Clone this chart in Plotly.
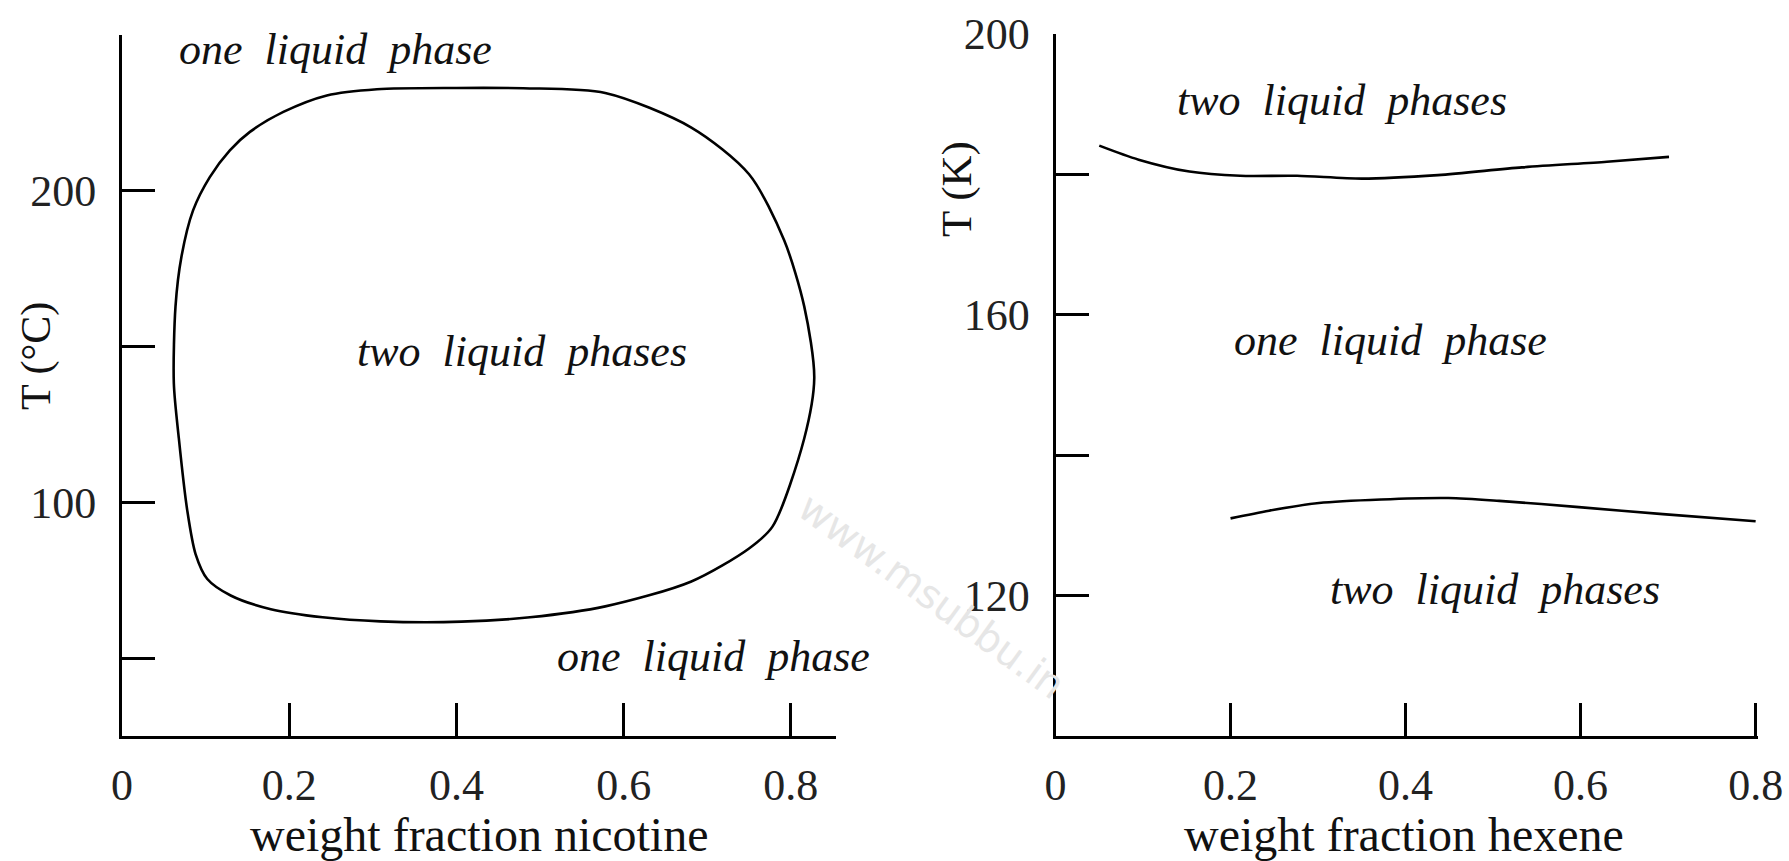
import plotly.graph_objects as go

# Nicotine-water: closed mutual-solubility loop (weight fraction nicotine, T in degC)
nic_x = [0.400, 0.480, 0.578, 0.681, 0.750, 0.792, 0.816, 0.828, 0.816, 0.778,
         0.750, 0.681, 0.578, 0.488, 0.406, 0.309, 0.240, 0.178, 0.130, 0.102,
         0.088, 0.078, 0.068, 0.062, 0.064, 0.071, 0.085, 0.105, 0.129, 0.153,
         0.193, 0.245, 0.305, 0.400]
nic_T = [233.0, 232.9, 231.4, 220.3, 205.3, 184.1, 162.9, 139.9, 120.5, 92.2,
         85.2, 74.6, 66.6, 63.1, 61.7, 61.8, 63.1, 65.7, 70.1, 75.4,
         83.4, 97.5, 120.5, 138.2, 162.9, 178.7, 193.7, 204.4, 213.0, 218.9,
         225.3, 230.6, 232.6, 233.0]

# Hexene system: upper and lower consolute curves (weight fraction hexene, T in K)
hex_upper_x = [0.050, 0.095, 0.153, 0.211, 0.276, 0.350, 0.437, 0.533, 0.630, 0.701]
hex_upper_T = [184.1, 182.1, 180.4, 179.8, 179.8, 179.4, 179.9, 181.0, 181.8, 182.5]
hex_lower_x = [0.200, 0.244, 0.301, 0.372, 0.449, 0.507, 0.598, 0.694, 0.800]
hex_lower_T = [131.0, 132.1, 133.2, 133.7, 133.9, 133.5, 132.6, 131.6, 130.6]

# Axis ticks
x_ticks = [0, 0.2, 0.4, 0.6, 0.8]
x_ticktext = ["0", "0.2", "0.4", "0.6", "0.8"]
left_y_ticks = [50, 100, 150, 200, 250]
left_y_ticktext = ["", "100", "", "200", ""]
right_y_ticks = [120, 140, 160, 180, 200]
right_y_ticktext = ["120", "", "160", "", "200"]

# Region labels: (text, x, y)
left_labels = [("one liquid phase", 0.255, 245.3),
               ("two liquid phases", 0.479, 148.5),
               ("one liquid phase", 0.708, 50.6)]
right_labels = [("two liquid phases", 0.327, 190.5),
                ("one liquid phase", 0.383, 156.4),
                ("two liquid phases", 0.502, 120.9)]

W, H = 1789, 861
SERIF = "Liberation Serif, Times New Roman, serif"
INK = "#111111"

fig = go.Figure()
line_style = dict(color="black", width=2.6, shape="spline", smoothing=0.8)
fig.add_trace(go.Scatter(x=nic_x, y=nic_T, mode="lines", line=line_style,
                         xaxis="x", yaxis="y", hoverinfo="skip"))
fig.add_trace(go.Scatter(x=hex_upper_x, y=hex_upper_T, mode="lines", line=line_style,
                         xaxis="x2", yaxis="y2", hoverinfo="skip"))
fig.add_trace(go.Scatter(x=hex_lower_x, y=hex_lower_T, mode="lines", line=line_style,
                         xaxis="x2", yaxis="y2", hoverinfo="skip"))

axis_common = dict(showline=True, linecolor="black", linewidth=3,
                   ticks="inside", ticklen=33, tickwidth=2.5, tickcolor="black",
                   showgrid=False, zeroline=False, mirror=False, automargin=False,
                   tickfont=dict(family=SERIF, size=44, color="#222222"))

fig.update_layout(
    width=W, height=H,
    margin=dict(l=0, r=0, t=0, b=0, autoexpand=False),
    paper_bgcolor="white", plot_bgcolor="white",
    showlegend=False,
    xaxis=dict(domain=[122 / W, 836 / W], range=[0, 0.854], anchor="y",
               tickmode="array", tickvals=x_ticks, ticktext=x_ticktext,
               ticklabelstandoff=8, **axis_common),
    yaxis=dict(domain=[(H - 736) / H, (H - 35) / H], range=[25, 250], anchor="x",
               tickmode="array", tickvals=left_y_ticks, ticktext=left_y_ticktext,
               ticklabelstandoff=14, **axis_common),
    xaxis2=dict(domain=[1055.5 / W, 1758 / W], range=[0, 0.8027], anchor="y2",
                tickmode="array", tickvals=x_ticks, ticktext=x_ticktext,
                ticklabelstandoff=8, **axis_common),
    yaxis2=dict(domain=[(H - 736) / H, (H - 34) / H], range=[100, 200], anchor="x2",
                tickmode="array", tickvals=right_y_ticks, ticktext=right_y_ticktext,
                ticklabelstandoff=14, **axis_common),
)

annotations = []
label_font = dict(family=SERIF, size=44, color=INK, style="italic")
for text, x, y in left_labels:
    annotations.append(dict(text=text.replace(" ", "&nbsp;&nbsp;"), x=x, y=y, xref="x", yref="y",
                            showarrow=False, font=label_font, xanchor="center", yanchor="middle"))
for text, x, y in right_labels:
    annotations.append(dict(text=text.replace(" ", "&nbsp;&nbsp;"), x=x, y=y, xref="x2", yref="y2",
                            showarrow=False, font=label_font, xanchor="center", yanchor="middle"))

title_font = dict(family=SERIF, size=48, color=INK)
annotations += [
    dict(text="weight fraction nicotine", x=479 / W, y=1 - 834 / H, xref="paper", yref="paper",
         showarrow=False, font=title_font, xanchor="center", yanchor="middle"),
    dict(text="weight fraction hexene", x=1404 / W, y=1 - 834 / H, xref="paper", yref="paper",
         showarrow=False, font=title_font, xanchor="center", yanchor="middle"),
    dict(text="T (°C)", x=37 / W, y=1 - 356 / H, xref="paper", yref="paper", textangle=-90,
         showarrow=False, font=dict(family=SERIF, size=42, color=INK),
         xanchor="center", yanchor="middle"),
    dict(text="T (K)", x=957 / W, y=1 - 189 / H, xref="paper", yref="paper", textangle=-90,
         showarrow=False, font=dict(family=SERIF, size=43, color=INK),
         xanchor="center", yanchor="middle"),
]
fig.update_layout(annotations=annotations)

# faint site watermark behind the plots
fig.add_annotation(text="www.msubbu.in", x=932 / W, y=1 - 596 / H, xref="paper", yref="paper",
                   textangle=36, showarrow=False,
                   font=dict(family="DejaVu Sans, sans-serif", size=40, color="#e6e6e6"),
                   xanchor="center", yanchor="middle")

fig.write_html("out.html")
